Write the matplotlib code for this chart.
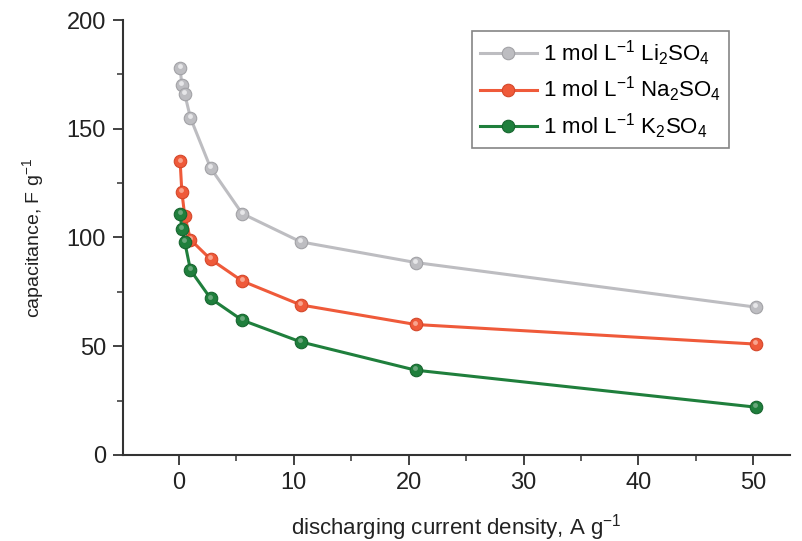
import matplotlib
matplotlib.use("Agg")
import matplotlib.pyplot as plt
from matplotlib.ticker import MultipleLocator
from matplotlib.transforms import offset_copy

plt.rcParams['font.family'] = ['Liberation Sans', 'DejaVu Sans']
plt.rcParams['mathtext.fontset'] = 'custom'
plt.rcParams['mathtext.rm'] = 'Liberation Sans'
plt.rcParams['mathtext.it'] = 'Liberation Sans'
plt.rcParams['mathtext.default'] = 'regular'

# current density, A g^-1
current = [0.1, 0.25, 0.5, 1.0, 2.75, 5.5, 10.6, 20.6, 50.2]
# capacitance, F g^-1
li_cap = [178, 170, 166, 155, 132, 111, 98, 88.5, 68]
na_cap = [135, 121, 110, 99, 90, 80, 69, 60, 51]
k_cap = [111, 104, 98, 85, 72, 62, 52, 39, 22]

labels = [r'1 mol L$^{-1}$ Li$_2$SO$_4$',
          r'1 mol L$^{-1}$ Na$_2$SO$_4$',
          r'1 mol L$^{-1}$ K$_2$SO$_4$']
colors = ['#bdbdc1', '#ef5a3a', '#1f7f3c']
edge = ['#a2a2a6', '#d4472a', '#17652f']
shine = ['#e6e6e8', '#f8a48e', '#6aa77c']

fig = plt.figure(figsize=(8.02, 5.41), dpi=100)
ax = fig.add_axes([0.153, 0.159, 0.832, 0.804])

# small highlight on the markers, shifted up a bit
hl = offset_copy(ax.transData, fig=fig, x=-0.4, y=1.3, units='points')

for y, lab, c, ec, sc in zip([li_cap, na_cap, k_cap], labels, colors, edge, shine):
    ax.plot(current, y, '-o', color=c, lw=2.2, ms=9, mfc=c, mec=ec, mew=0.8, label=lab)
    ax.plot(current, y, 'o', ms=3.5, mfc=sc, mec='none', transform=hl)

ax.set_xlim(-4.9, 53.2)
ax.set_ylim(0, 200)
ax.xaxis.set_major_locator(MultipleLocator(10))
ax.xaxis.set_minor_locator(MultipleLocator(5))
ax.yaxis.set_major_locator(MultipleLocator(50))
ax.yaxis.set_minor_locator(MultipleLocator(25))

for s in ['top', 'right']:
    ax.spines[s].set_visible(False)
for s in ['left', 'bottom']:
    ax.spines[s].set_color('#333333')
    ax.spines[s].set_linewidth(1.5)

ax.tick_params(which='major', direction='out', length=7, width=1.3, color='#333333',
               labelsize=17, labelcolor='#222222', pad=5)
ax.tick_params(which='minor', direction='out', length=4.5, width=1.1, color='#333333')

ax.set_xlabel(r'discharging current density, A g$^{-1}$', fontsize=16, color='#222222', labelpad=13)
ax.set_ylabel(r'capacitance, F g$^{-1}$', fontsize=14, color='#222222', labelpad=15)

leg = ax.legend(loc='upper right', bbox_to_anchor=(0.915, 0.985), fontsize=16,
                frameon=True, fancybox=False, handlelength=2.6, borderpad=0.35,
                labelspacing=0.3, handletextpad=0.25, borderaxespad=0.2)
leg.get_frame().set_edgecolor('#666666')
leg.get_frame().set_linewidth(1.2)

fig.savefig('out.png', dpi=100)
